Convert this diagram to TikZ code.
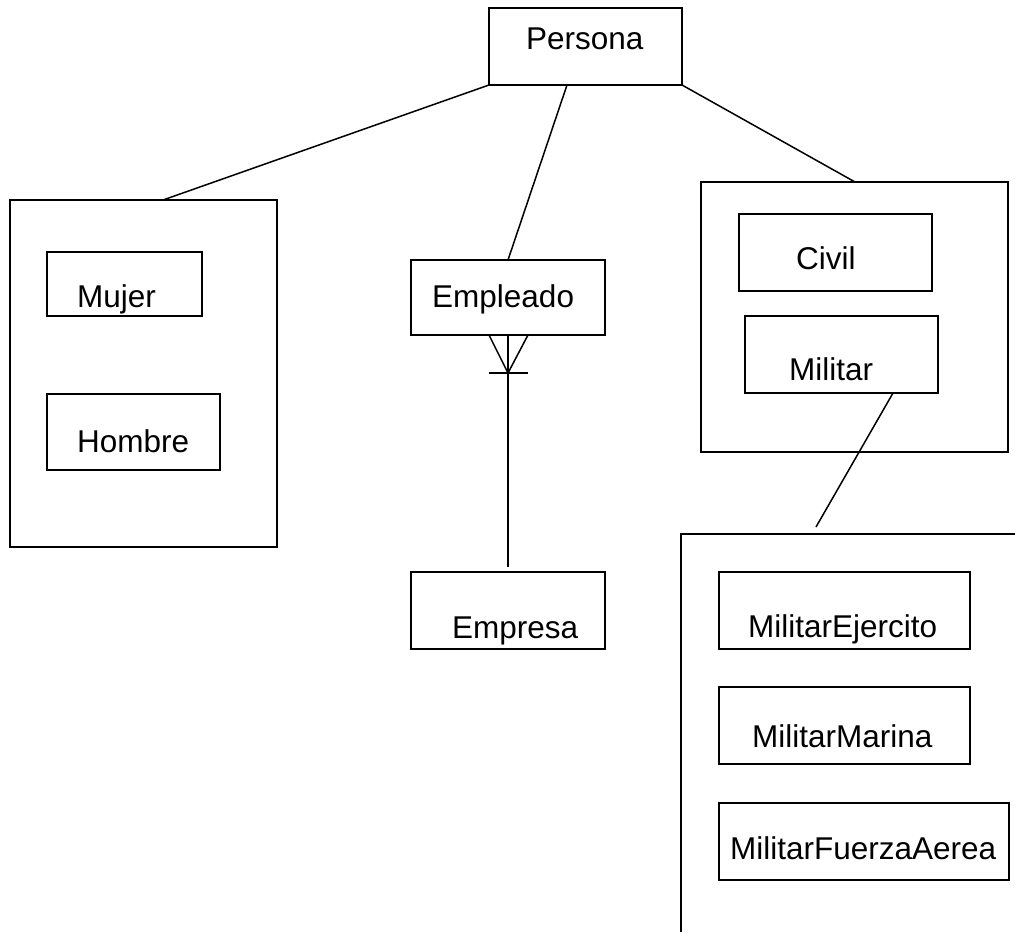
\documentclass[tikz,border=0pt]{standalone}
\usepackage{fontspec}
\setmainfont{Liberation Sans}
\begin{document}
\begin{tikzpicture}[x=1pt,y=-1pt,
  box/.style={draw, line width=1.6pt, inner sep=0pt, outer sep=0pt, anchor=north west},
  conn/.style={line width=1.5pt},
  lbl/.style={inner sep=0pt, anchor=base west, font=\fontsize{31.5}{37}\selectfont}]
\useasboundingbox (0,0) rectangle (1015,932);
\fill[white] (0,0) rectangle (1015,932);

% class boxes: name, top-left corner, width, height
\node[box, minimum width=193pt, minimum height=77pt] (persona) at (489,8) {};
\node[box, minimum width=267pt, minimum height=347pt] (grpsexo) at (10,200) {};
\node[box, minimum width=155pt, minimum height=64pt] (mujer) at (47,252) {};
\node[box, minimum width=173pt, minimum height=76pt] (hombre) at (47,394) {};
\node[box, minimum width=194pt, minimum height=75pt] (empleado) at (411,260) {};
\node[box, minimum width=194pt, minimum height=77pt] (empresa) at (411,572) {};
\node[box, minimum width=307pt, minimum height=270pt] (grptipo) at (701,182) {};
\node[box, minimum width=193pt, minimum height=77pt] (civil) at (739,214) {};
\node[box, minimum width=193pt, minimum height=77pt] (militar) at (745,316) {};
\node[box, minimum width=251pt, minimum height=77pt] (mejercito) at (719,572) {};
\node[box, minimum width=251pt, minimum height=77pt] (mmarina) at (719,687) {};
\node[box, minimum width=290pt, minimum height=77pt] (mfuerza) at (719,803) {};

% open group frame for the military branches
\coordinate (grparmas) at (681,534);
\draw[line width=1.6pt] (681,932) -- (grparmas) -- (1015,534);

% labels
\node[lbl] (tpersona) at (526,49) {Persona};
\node[lbl] (tmujer) at (77,307) {Mujer};
\node[lbl] (thombre) at (77,452) {Hombre};
\node[lbl] (templeado) at (432,307) {Empleado};
\node[lbl] (tempresa) at (452,638) {Empresa};
\node[lbl] (tcivil) at (796,269) {Civil};
\node[lbl] (tmilitar) at (789,380) {Militar};
\node[lbl] (tmejercito) at (748,637) {MilitarEjercito};
\node[lbl] (tmmarina) at (752,747) {MilitarMarina};
\node[lbl] (tmfuerza) at (730,859) {MilitarFuerzaAerea};

% connectors
\draw[conn] (persona.south west) -- ([xshift=153pt]grpsexo.north west);
\draw[conn] ([xshift=78pt]persona.south west) -- ([xshift=97pt]empleado.north west);
\draw[conn] (persona.south east) -- ([xshift=154pt]grptipo.north west);

\coordinate (militarend) at (816,527);
\draw[conn] ([xshift=148pt]militar.south west) -- (militarend);

% one-to-many link with crow's foot
\coordinate (footpt) at (508,373);
\coordinate (empresaend) at (508,567);
\draw[conn] ([xshift=97pt]empleado.south west) -- (empresaend);
\draw[conn] ([xshift=78pt]empleado.south west) -- (footpt) -- ([xshift=117pt]empleado.south west);
\draw[conn] ([xshift=-19pt]footpt) -- ([xshift=20pt]footpt);
\end{tikzpicture}
\end{document}
